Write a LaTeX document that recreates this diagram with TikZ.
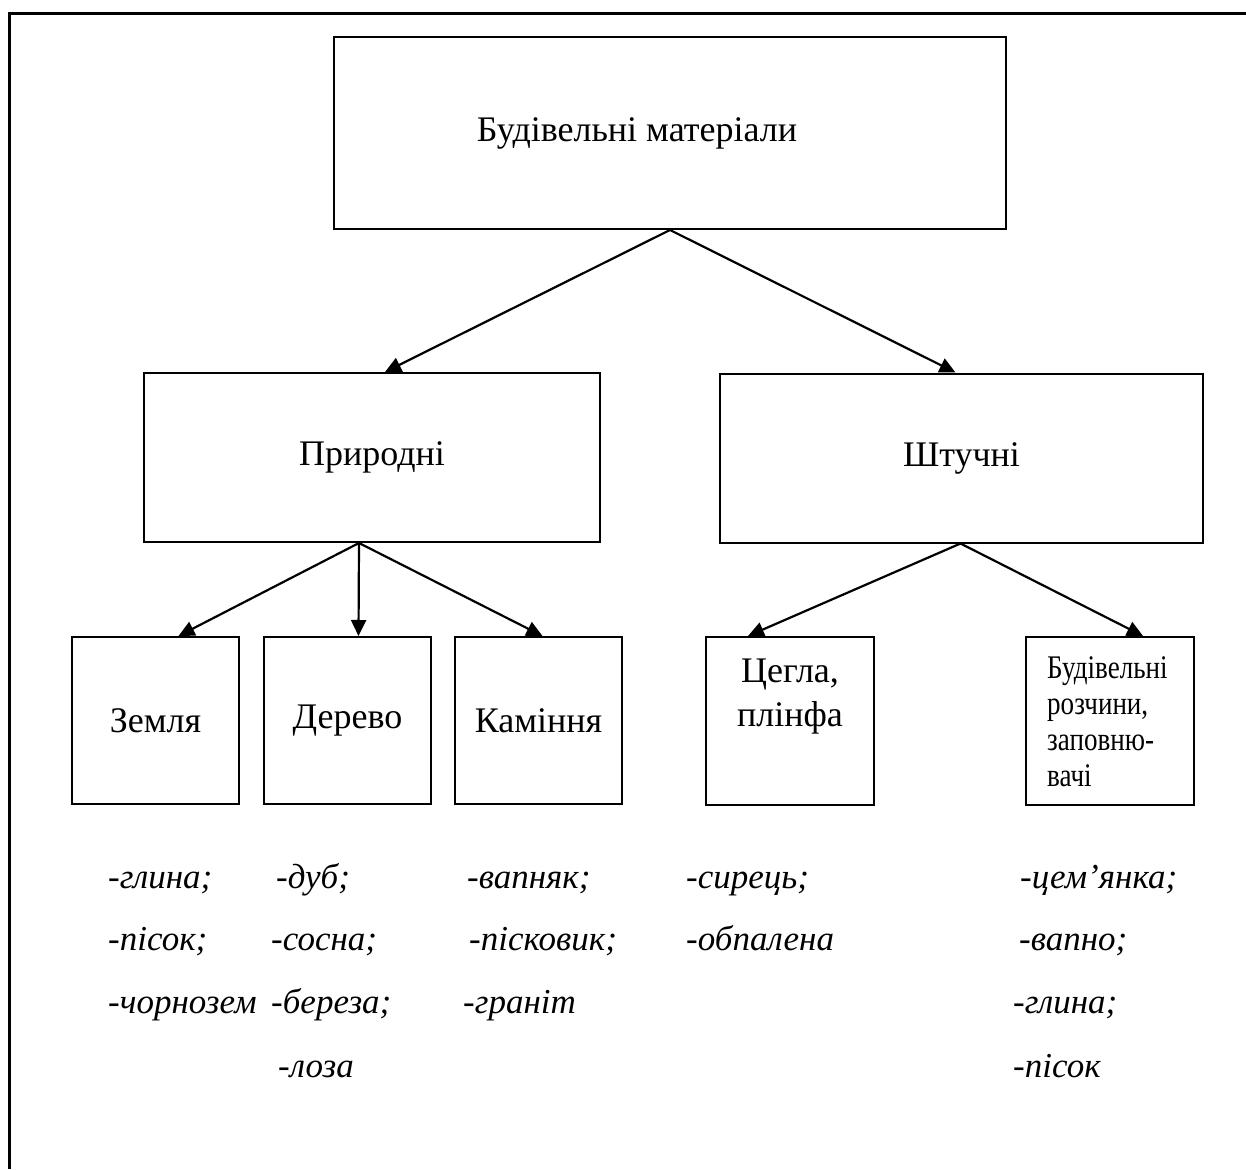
\documentclass[tikz,border=0pt]{standalone}
\usepackage{fontspec}
\setmainfont{Liberation Serif}
\newfontfamily\narrowfont[FakeStretch=0.82]{Liberation Serif}
\usetikzlibrary{arrows.meta}

\begin{document}
\begin{tikzpicture}[%
    x=1pt, y=-1pt,
    box/.style={ draw, line width=2pt, inner sep=0pt, font=\fontsize{36}{44}\selectfont },%
    small/.style={ box, minimum width=167pt, minimum height=167pt },%
    mid/.style={ box, minimum height=169pt },%
    caption/.style={ inner sep=0pt, font=\fontsize{36}{44}\selectfont },%
    item/.style={ anchor=base west, inner sep=0pt, font=\fontsize{35}{42}\selectfont\itshape },%
    arr/.style={ -{Triangle[length=16pt,width=15pt]}, line width=2.2pt }%
  ]
  \useasboundingbox (0,0) rectangle (1246,1169);
  \draw [line width=3pt] (9,1169) -- (9,14) -- (1246,14);

  \node (mater) at (670,133) [box, minimum width=672pt, minimum height=192pt]{};
  \node (matertxt) at (637,133) [caption]{Будівельні матеріали};

  \node (prir)   at (372,457.5) [mid, minimum width=456pt]{Природні};
  \node (shtuch) at (961.5,458) [mid, minimum width=483pt]{Штучні};

  \node (zemlya)   at (155.5,720.5) [small]{Земля};
  \node (derevo)   at (347.5,720.5) [small]{Дерево};
  \node (kaminnya) at (538.5,720.5) [small]{Каміння};
  \node (tsegla)   at (790,721)     [small, minimum width=168pt, minimum height=168pt]{};
  \node (tseglatxt) at (790,659) [caption, anchor=north, align=center]{Цегла,\\плінфа};
  \node (rozchyny) at (1110,721)    [small, minimum width=168pt, minimum height=168pt]{};
  \node (rozchynytxt) at (1047,656) [inner sep=0pt, anchor=north west, align=left,
      font=\narrowfont\fontsize{33}{36}\selectfont]{Будівельні\\розчини,\\заповню-\\вачі};

  \draw [arr] (mater.south) -- ([xshift=13pt]prir.north);
  \draw [arr] (mater.south) -- ([xshift=-6pt]shtuch.north);

  \draw [arr] ([xshift=-13pt]prir.south) -- ([xshift=23pt]zemlya.north);
  \draw [arr] ([xshift=-13pt]prir.south) -- ([xshift=11pt]derevo.north);
  \draw [arr] ([xshift=-13pt]prir.south) -- ([xshift=4pt]kaminnya.north);

  \draw [arr] ([xshift=-1pt]shtuch.south) -- ([xshift=-42pt]tsegla.north);
  \draw [arr] ([xshift=-1pt]shtuch.south) -- ([xshift=33pt]rozchyny.north);

  % lists
  \node (zem1) at (108,888)  [item]{-глина;};
  \node (zem2) at (108,950)  [item]{-пісок;};
  \node (zem3) at (108,1013) [item]{-чорнозем};

  \node (der1) at (276,888)  [item]{-дуб;};
  \node (der2) at (271,950)  [item]{-сосна;};
  \node (der3) at (271,1013) [item]{-береза;};
  \node (der4) at (278,1077) [item]{-лоза};

  \node (kam1) at (467,888)  [item]{-вапняк;};
  \node (kam2) at (469,950)  [item]{-пісковик;};
  \node (kam3) at (463,1013) [item]{-граніт};

  \node (tse1) at (686,888)  [item]{-сирець;};
  \node (tse2) at (686,950)  [item]{-обпалена};

  \node (roz1) at (1020,888)  [item]{-цем’янка;};
  \node (roz2) at (1019,950)  [item]{-вапно;};
  \node (roz3) at (1013,1013) [item]{-глина;};
  \node (roz4) at (1013,1077) [item]{-пісок};
\end{tikzpicture}
\end{document}
